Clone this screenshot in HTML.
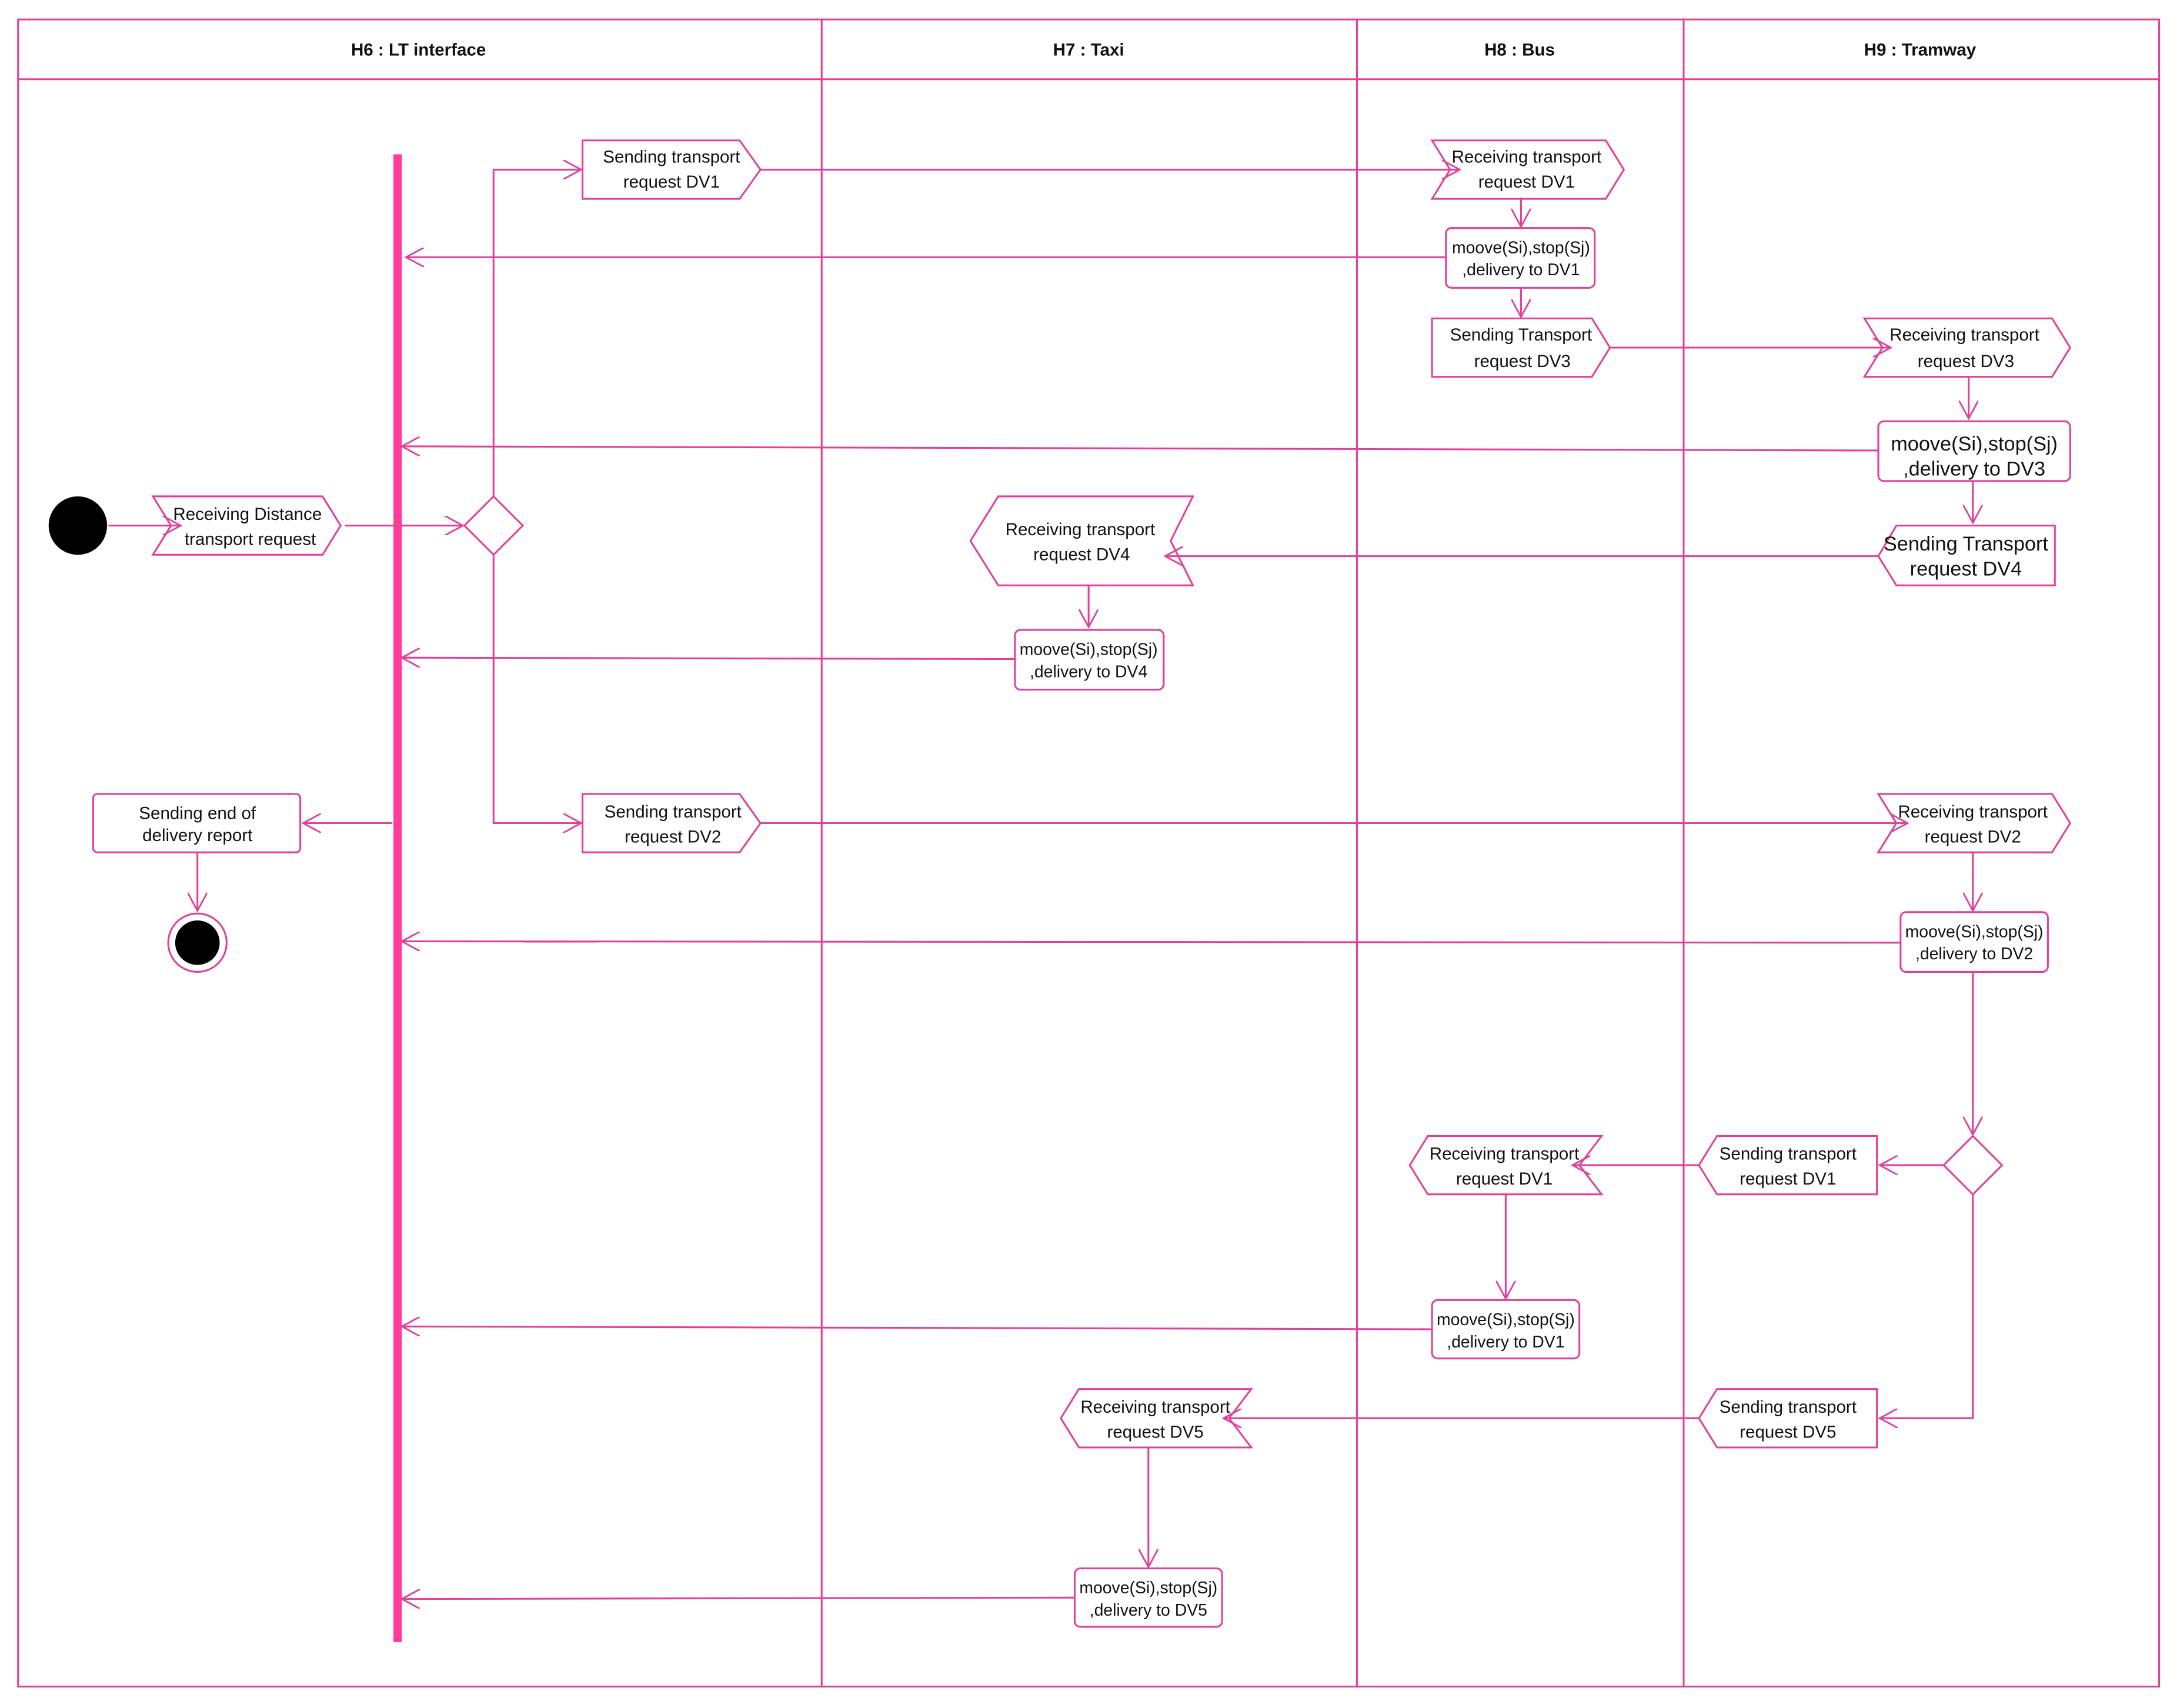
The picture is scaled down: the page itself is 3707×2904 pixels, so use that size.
<!DOCTYPE html>
<html><head><meta charset="utf-8"><style>
html,body{margin:0;padding:0;background:#fff;}
svg{display:block;}
text{font-family:"Liberation Sans",Arial,sans-serif;fill:#111;}
</style></head><body>
<svg width="3707" height="2904" viewBox="0 0 1568 1228.4" preserveAspectRatio="none" xmlns="http://www.w3.org/2000/svg">
<defs>
<marker id="a" viewBox="0 0 14 14" refX="13" refY="7" markerWidth="14" markerHeight="14" markerUnits="userSpaceOnUse" orient="auto">
<path d="M0,0 L13,7 L0,14" fill="none" stroke="#e0409a" stroke-width="1.2"/>
</marker>
</defs>
<rect width="1568" height="1228.4" fill="#fff"/>
<g fill="none" stroke="#e0409a" stroke-width="1.3">
<rect x="13" y="14" width="1540" height="1199"/>
<line x1="13" y1="57" x2="1553" y2="57"/>
<line x1="591" y1="14" x2="591" y2="1213"/>
<line x1="976" y1="14" x2="976" y2="1213"/>
<line x1="1211" y1="14" x2="1211" y2="1213"/>
</g>
<g font-size="12.5" font-weight="bold" text-anchor="middle">
<text x="301" y="40">H6 : LT interface</text>
<text x="783" y="40">H7 : Taxi</text>
<text x="1093" y="40">H8 : Bus</text>
<text x="1381" y="40">H9 : Tramway</text>
</g>
<rect x="283" y="111" width="6" height="1070" fill="#ff3b9a"/>
<circle cx="56" cy="378" r="21" fill="#000"/>
<circle cx="142" cy="678" r="21" fill="#fff" stroke="#e0409a" stroke-width="1.3"/>
<circle cx="142" cy="678" r="16" fill="#000"/>
<g fill="#fff" stroke="#e0409a" stroke-width="1.3">
<polygon points="110,357 232,357 245,378 232,399 110,399 123,378"/>
<polygon points="355,357 376,378 355,399 334,378"/>
<polygon points="1419,817 1440,838 1419,859 1398,838"/>
<polygon points="419,101 532,101 547,122 532,143 419,143"/>
<polygon points="419,571 532,571 547,592 532,613 419,613"/>
<polygon points="1030,101 1155,101 1168,122 1155,143 1030,143 1043,122"/>
<rect x="1040" y="164" width="107" height="43" rx="4"/>
<polygon points="1030,229 1145,229 1158,250 1145,271 1030,271"/>
<polygon points="1341,229 1476,229 1489,250 1476,271 1341,271 1354,250"/>
<rect x="1351" y="303" width="138" height="43" rx="4"/>
<polygon points="1364,378 1478,378 1478,421 1364,421 1351,400"/>
<polygon points="718,357 858,357 842,389 858,421 718,421 698,389"/>
<rect x="730" y="453" width="107" height="43" rx="4"/>
<rect x="67" y="571" width="149" height="42" rx="3"/>
<polygon points="1351,571 1476,571 1489,592 1476,613 1351,613 1364,592"/>
<rect x="1367" y="656" width="106" height="43" rx="4"/>
<polygon points="1235,817 1350,817 1350,859 1235,859 1222,838"/>
<polygon points="1027,817 1152,817 1136,838 1152,859 1027,859 1014,838"/>
<rect x="1030" y="935" width="106" height="42" rx="4"/>
<polygon points="1235,999 1350,999 1350,1041 1235,1041 1222,1020"/>
<polygon points="776,999 900,999 884,1020 900,1041 776,1041 763,1020"/>
<rect x="773" y="1128" width="106" height="42" rx="4"/>
</g>
<g fill="none" stroke="#e0409a" stroke-width="1.3" marker-end="url(#a)">
<line x1="78" y1="378" x2="130" y2="378"/>
<line x1="248" y1="378" x2="333" y2="378"/>
<polyline points="355,357 355,122 418,122"/>
<polyline points="355,399 355,592 418,592"/>
<line x1="547" y1="122" x2="1050" y2="122"/>
<line x1="1094" y1="143" x2="1094" y2="163"/>
<line x1="1040" y1="185" x2="292" y2="185"/>
<line x1="1094" y1="207" x2="1094" y2="228"/>
<line x1="1158" y1="250" x2="1360" y2="250"/>
<line x1="1416" y1="271" x2="1416" y2="301"/>
<line x1="1351" y1="324" x2="289" y2="321"/>
<line x1="1419" y1="346" x2="1419" y2="376"/>
<line x1="1351" y1="400" x2="838" y2="400"/>
<line x1="783" y1="421" x2="783" y2="451"/>
<line x1="730" y1="474" x2="289" y2="473"/>
<line x1="282" y1="592" x2="218" y2="592"/>
<line x1="142" y1="613" x2="142" y2="655"/>
<line x1="547" y1="592" x2="1372" y2="592"/>
<line x1="1419" y1="613" x2="1419" y2="655"/>
<line x1="1367" y1="678" x2="289" y2="677"/>
<line x1="1419" y1="699" x2="1419" y2="816"/>
<line x1="1398" y1="838" x2="1352" y2="838"/>
<line x1="1222" y1="838" x2="1131" y2="838"/>
<line x1="1083" y1="859" x2="1083" y2="934"/>
<line x1="1030" y1="956" x2="289" y2="954"/>
<polyline points="1419,859 1419,1020 1352,1020"/>
<line x1="1222" y1="1020" x2="880" y2="1020"/>
<line x1="826" y1="1041" x2="826" y2="1127"/>
<line x1="773" y1="1149" x2="289" y2="1150"/>
</g>
<g font-size="12.5" text-anchor="middle">
<text x="178" y="374">Receiving Distance</text><text x="180" y="392">transport request</text>
<text x="483" y="117">Sending transport</text><text x="483" y="135">request DV1</text>
<text x="484" y="588">Sending transport</text><text x="484" y="606">request DV2</text>
<text x="1098" y="117">Receiving transport</text><text x="1098" y="135">request DV1</text>
<text x="1094" y="245">Sending Transport</text><text x="1095" y="264">request DV3</text>
<text x="1413" y="245">Receiving transport</text><text x="1414" y="264">request DV3</text>
<text x="777" y="385">Receiving transport</text><text x="778" y="403">request DV4</text>
<text x="142" y="589">Sending end of</text><text x="142" y="605">delivery report</text>
<text x="1419" y="588">Receiving transport</text><text x="1419" y="606">request DV2</text>
<text x="1286" y="834">Sending transport</text><text x="1286" y="852">request DV1</text>
<text x="1082" y="834">Receiving transport</text><text x="1082" y="852">request DV1</text>
<text x="1286" y="1016">Sending transport</text><text x="1286" y="1034">request DV5</text>
<text x="831" y="1016">Receiving transport</text><text x="831" y="1034">request DV5</text>
</g>
<g font-size="12" text-anchor="middle">
<text x="1094" y="182">moove(Si),stop(Sj)</text><text x="1094" y="198">,delivery to DV1</text>
<text x="783" y="471">moove(Si),stop(Sj)</text><text x="783" y="487">,delivery to DV4</text>
<text x="1420" y="674">moove(Si),stop(Sj)</text><text x="1420" y="690">,delivery to DV2</text>
<text x="1083" y="953">moove(Si),stop(Sj)</text><text x="1083" y="969">,delivery to DV1</text>
<text x="826" y="1146">moove(Si),stop(Sj)</text><text x="826" y="1162">,delivery to DV5</text>
</g>
<g font-size="14.5" text-anchor="middle">
<text x="1420" y="324">moove(Si),stop(Sj)</text><text x="1420" y="342">,delivery to DV3</text>
<text x="1414" y="396">Sending Transport</text><text x="1414" y="414">request DV4</text>
</g>
</svg>
</body></html>
